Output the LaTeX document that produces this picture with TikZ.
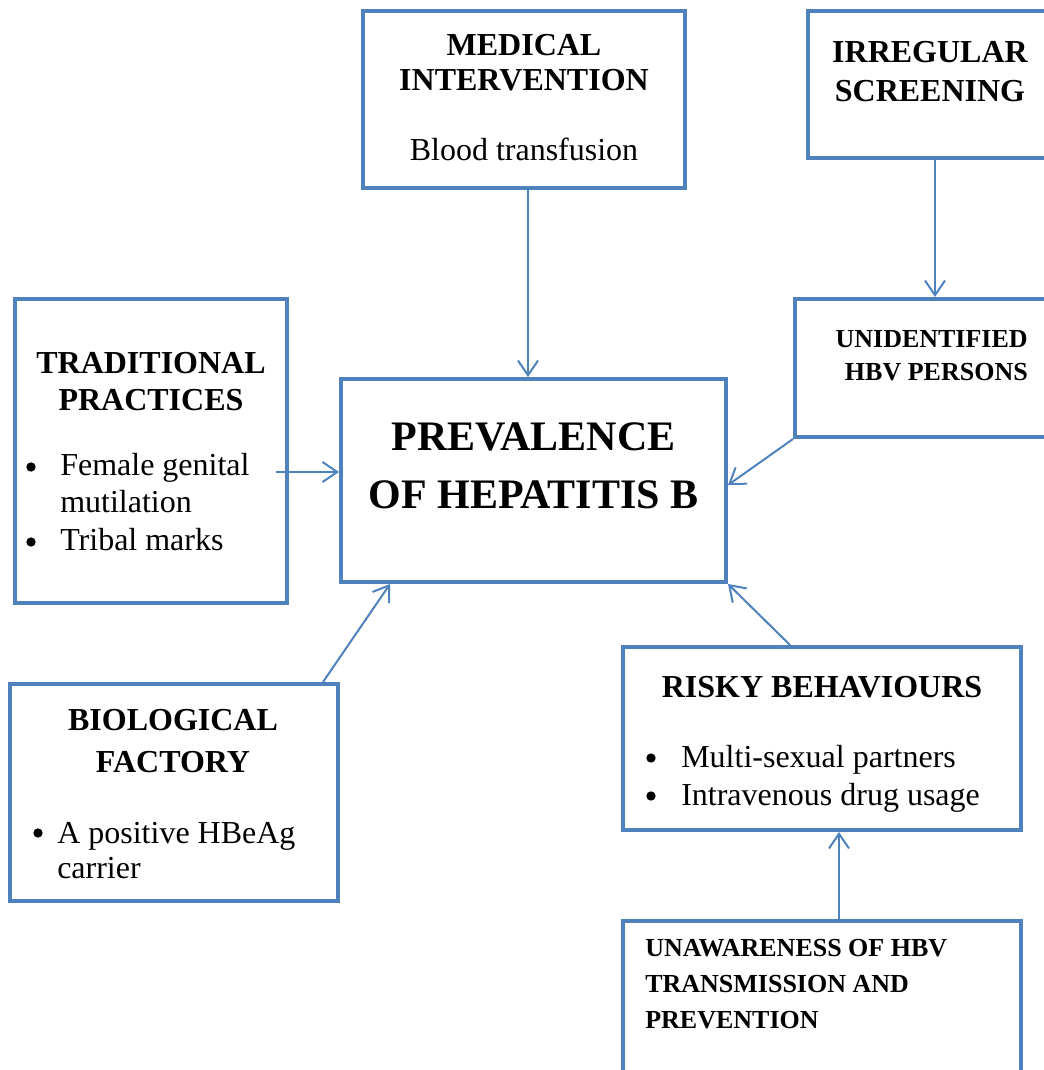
\documentclass[tikz,border=0pt]{standalone}
\usepackage{fontspec}
\setmainfont{Liberation Serif}
\usetikzlibrary{arrows.meta,calc}
\definecolor{boxc}{RGB}{79,129,189}
\begin{document}
\begin{tikzpicture}[x=0.75pt,y=-0.75pt,
  boxn/.style n args={2}{draw=boxc,line width=3pt,inner sep=0pt,
    minimum width=#1*0.75pt,minimum height=#2*0.75pt},
  arr/.style={draw=boxc,line width=1.5pt,-{Straight Barb[length=11pt,width=15pt,line width=1.5pt]}},
  hd/.style={font=\fontsize{24}{28}\selectfont\bfseries,inner sep=0pt,anchor=base},
  hds/.style={font=\fontsize{19.5}{23}\selectfont\bfseries,inner sep=0pt},
  hdl/.style={font=\fontsize{31.5}{36}\selectfont\bfseries,inner sep=0pt,anchor=base},
  tx/.style={font=\fontsize{24}{28}\selectfont,inner sep=0pt,anchor=base west},
  txc/.style={font=\fontsize{24}{28}\selectfont,inner sep=0pt,anchor=base},
  bul/.style={circle,fill=black,inner sep=0pt,minimum size=7pt}]
\useasboundingbox (0,0) rectangle (1044,1070);
% boxes
\node[boxn={322}{177}] (med) at (524,99.5) {};
\node[boxn={254}{147}] (irr) at (935,84.5) {};
\node[boxn={272}{304}] (trad) at (151,451) {};
\node[boxn={385}{203}] (prev) at (533.5,480.5) {};
\node[boxn={280}{138}] (uni) at (935,368) {};
\node[boxn={328}{217}] (bio) at (174,792.5) {};
\node[boxn={398}{183}] (risk) at (822,738.5) {};
\node[boxn={398}{169}] (unaw) at (822,1005.5) {};
% texts
\node[hd] (med1) at (524,56) {MEDICAL};
\node[hd] (med2) at (524,91) {INTERVENTION};
\node[txc] (med3) at (524,161) {Blood transfusion};
\node[hd] (irr1) at (930,63) {IRREGULAR};
\node[hd] (irr2) at (930,102) {SCREENING};
\node[hds,anchor=base east] (uni1) at (1028,347) {UNIDENTIFIED};
\node[hds,anchor=base east] (uni2) at (1028,380) {HBV PERSONS};
\node[hdl] (prev1) at (533.5,450) {PREVALENCE};
\node[hdl] (prev2) at (533.5,508) {OF HEPATITIS B};
\node[hd] (trad1) at (151,373) {TRADITIONAL};
\node[hd] (trad2) at (151,410) {PRACTICES};
\node[bul] (tb1) at (31,467) {};
\node[tx] (trad3) at (60,475) {Female genital};
\node[tx] (trad4) at (60,512) {mutilation};
\node[bul] (tb2) at (31,542) {};
\node[tx] (trad5) at (60,550) {Tribal marks};
\node[hd] (bio1) at (173,730) {BIOLOGICAL};
\node[hd] (bio2) at (173,772) {FACTORY};
\node[bul] (bb1) at (38,833) {};
\node[tx] (bio3) at (57,843) {A positive HBeAg};
\node[tx] (bio4) at (57,878) {carrier};
\node[hd] (risk1) at (822,697) {RISKY BEHAVIOURS};
\node[bul] (rb1) at (651,758) {};
\node[tx] (risk2) at (681,767) {Multi-sexual partners};
\node[bul] (rb2) at (651,796) {};
\node[tx] (risk3) at (681,805) {Intravenous drug usage};
\node[hds,anchor=base west] (un1) at (645,956) {UNAWARENESS OF HBV};
\node[hds,anchor=base west] (un2) at (645,992) {TRANSMISSION AND};
\node[hds,anchor=base west] (un3) at (645,1028) {PREVENTION};
% arrows
\coordinate (ts) at ([xshift=-9.75pt,yshift=-15.75pt]trad.east);
\draw[arr] ([xshift=3pt]med.south) -- ([xshift=3pt]med.south |- prev.north);
\draw[arr] (irr.south) -- (irr.south |- uni.north);
\draw[arr] (ts) -- (ts -| prev.west);
\draw[arr] (uni.south west) -- ([yshift=-3.4pt]prev.east);
\draw[arr] ([xshift=111.75pt]bio.north) -- ([xshift=-107.6pt]prev.south);
\draw[arr] ([xshift=-24pt]risk.north) -- (prev.south east);
\draw[arr] ([xshift=12.75pt]unaw.north) -- ([xshift=12.75pt]risk.south);
\end{tikzpicture}
\end{document}
